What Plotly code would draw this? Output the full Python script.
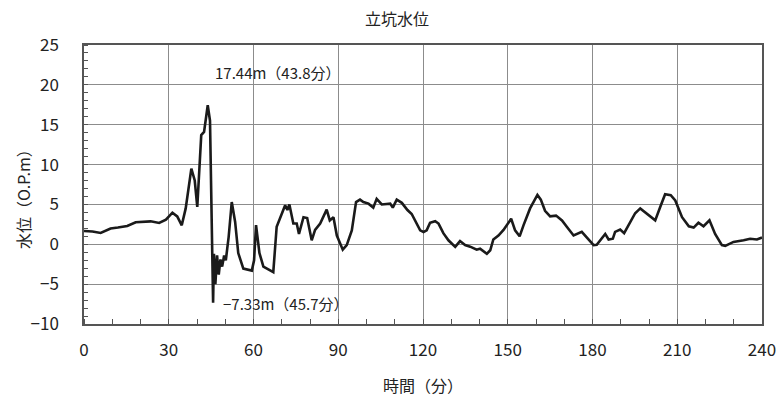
import plotly.graph_objects as go

# time (min) and shaft water level (O.P.m)
time_min = [0, 3, 5.9, 9.4, 12, 15.3, 18.3, 21, 23.6, 26.6, 29, 31.3, 33, 34.6, 36, 38, 39.2, 40.1,
            41.5, 42.5, 43.8, 44.6, 45.2, 45.7, 46.0, 46.5, 47.1, 47.7, 48.3, 48.9, 49.6, 50.2, 50.7,
            51.2, 52.3, 53.5, 54.6, 56.4, 59.4, 60.2, 60.9, 62.1, 63.5, 67, 68.2, 70, 71.2, 72, 72.7,
            74.1, 75.3, 76.1, 77.7, 79, 80.6, 81.8, 83.6, 85.9, 87, 88.3, 89.5, 91.6, 93, 94.8, 96.3,
            97.7, 98.9, 100.7, 102.4, 103.6, 105.4, 108.4, 109.3, 110.7, 112.5, 114.5, 116, 119, 120.2,
            121.3, 122.5, 124.3, 125.5, 127.2, 129, 131.4, 133.1, 134.9, 136.7, 139, 140.2, 142.6,
            143.8, 144.9, 146.7, 148.5, 149.7, 151.2, 152.6, 154.2, 155.6, 157.9, 160.5, 161.7, 163.2,
            165, 167.1, 169.2, 170.9, 173.3, 176.2, 178, 180.4, 181.5, 183.3, 184.5, 185.7, 187.2, 188,
            189.8, 191.2, 192.7, 195.1, 196.9, 199.3, 202.2, 204, 205.7, 207.7, 209.3, 211.7, 214.1,
            215.8, 217.5, 219.3, 221.4, 223.4, 225.8, 227, 229.9, 233.5, 235.8, 238.2, 240]
level = [1.67, 1.6, 1.42, 1.97, 2.1, 2.3, 2.76, 2.85, 2.88, 2.68, 3.1, 3.97, 3.5, 2.38, 4.5, 9.5, 8.0, 4.68,
         13.7, 14.1, 17.44, 15.5, 3.0, -7.33, -1.2, -5.0, -1.4, -3.8, -1.9, -2.8, -1.4, -2.0, -0.55,
         0.9, 5.3, 2.8, -1.1, -3.05, -3.3, -2.0, 2.4, -1.1, -2.8, -3.5, 2.2, 3.9, 4.9, 4.3, 5.0,
         2.6, 2.6, 1.3, 3.4, 3.3, 0.5, 1.8, 2.6, 4.35, 3.0, 3.4, 1.1, -0.67, -0.1, 1.75, 5.3,
         5.6, 5.3, 5.1, 4.6, 5.7, 5.0, 5.1, 4.6, 5.6, 5.2, 4.3, 3.8, 1.75, 1.55,
         1.75, 2.7, 2.9, 2.6, 1.4, 0.5, -0.33, 0.4, -0.1, -0.3, -0.67, -0.55, -1.2,
         -0.75, 0.6, 1.1, 1.8, 2.4, 3.2, 1.75, 1.0, 2.4, 4.5, 6.2, 5.6, 4.2,
         3.5, 3.6, 3.0, 2.2, 1.1, 1.55, 0.9, -0.1, -0.05, 0.8, 1.3, 0.6, 0.7, 1.55,
         1.85, 1.4, 2.4, 3.9, 4.5, 3.85, 3.0, 4.7, 6.27, 6.15, 5.5, 3.4, 2.26,
         2.1, 2.7, 2.26, 3.0, 1.3, -0.1, -0.2, 0.3, 0.5, 0.7, 0.6, 0.85]

x_ticks = [0, 30, 60, 90, 120, 150, 180, 210, 240]
y_ticks = [-10, -5, 0, 5, 10, 15, 20, 25]

title_text = "立坑水位"
x_title = "時間（分）"
y_title = "水位（O.P.m）"
max_label = "17.44m（43.8分）"
min_label = "−7.33m（45.7分）"

FONT = "Noto Sans CJK JP"

fig = go.Figure()
fig.add_trace(go.Scatter(x=time_min, y=level, mode="lines",
                         line=dict(color="#1a1a1a", width=2.6), showlegend=False))

axis_common = dict(showgrid=True, gridcolor="#8c8c8c", gridwidth=1,
                   showline=True, linecolor="#555555", linewidth=1.5, mirror=True,
                   zeroline=False, tickfont=dict(family=FONT, size=17, color="#222222"),
                   ticks="", automargin=False, ticklabeloverflow="allow")

fig.update_xaxes(range=[0, 240], tickvals=x_ticks, ticktext=[str(v) for v in x_ticks],
                 minor=dict(dtick=10, ticks="inside", ticklen=5, tickcolor="#555555", showgrid=False),
                 ticklabelstandoff=10, **axis_common)
fig.update_yaxes(range=[-10, 25], tickvals=y_ticks,
                 ticktext=[("−" + str(-v)) if v < 0 else str(v) for v in y_ticks],
                 minor=dict(dtick=1, ticks="inside", ticklen=4, tickcolor="#555555", showgrid=False),
                 ticklabelstandoff=20, **axis_common)

ph = 405 - 45 - 81
fig.update_layout(
    width=776, height=405,
    margin=dict(l=84, r=14, t=45, b=81),
    paper_bgcolor="white", plot_bgcolor="white",
    font=dict(family=FONT, color="#222222"),
    annotations=[
        dict(text=title_text, x=0.462, y=1 + (45 - 18) / ph, xref="paper", yref="paper", showarrow=False,
             font=dict(size=16, family=FONT), yanchor="middle"),
        dict(text=x_title, x=0.5, y=-(385 - 324) / ph, xref="paper", yref="paper", showarrow=False,
             font=dict(size=16, family=FONT), yanchor="middle"),
        dict(text=y_title, x=-(84 - 23) / 678, y=(324 - 195) / ph, xref="paper", yref="paper",
             showarrow=False, textangle=-90, font=dict(size=16, family=FONT),
             xanchor="center", yanchor="middle"),
        dict(text=max_label, x=45.8, y=21.6, xref="x", yref="y", showarrow=False,
             font=dict(size=15, family=FONT), xanchor="left", yanchor="middle"),
        dict(text=min_label, x=48.6, y=-7.4, xref="x", yref="y", showarrow=False,
             font=dict(size=15, family=FONT), xanchor="left", yanchor="middle"),
    ],
)

fig.write_html("out.html", config={"displayModeBar": False},
               post_script="document.body.style.margin='0';document.body.style.overflow='hidden';")
